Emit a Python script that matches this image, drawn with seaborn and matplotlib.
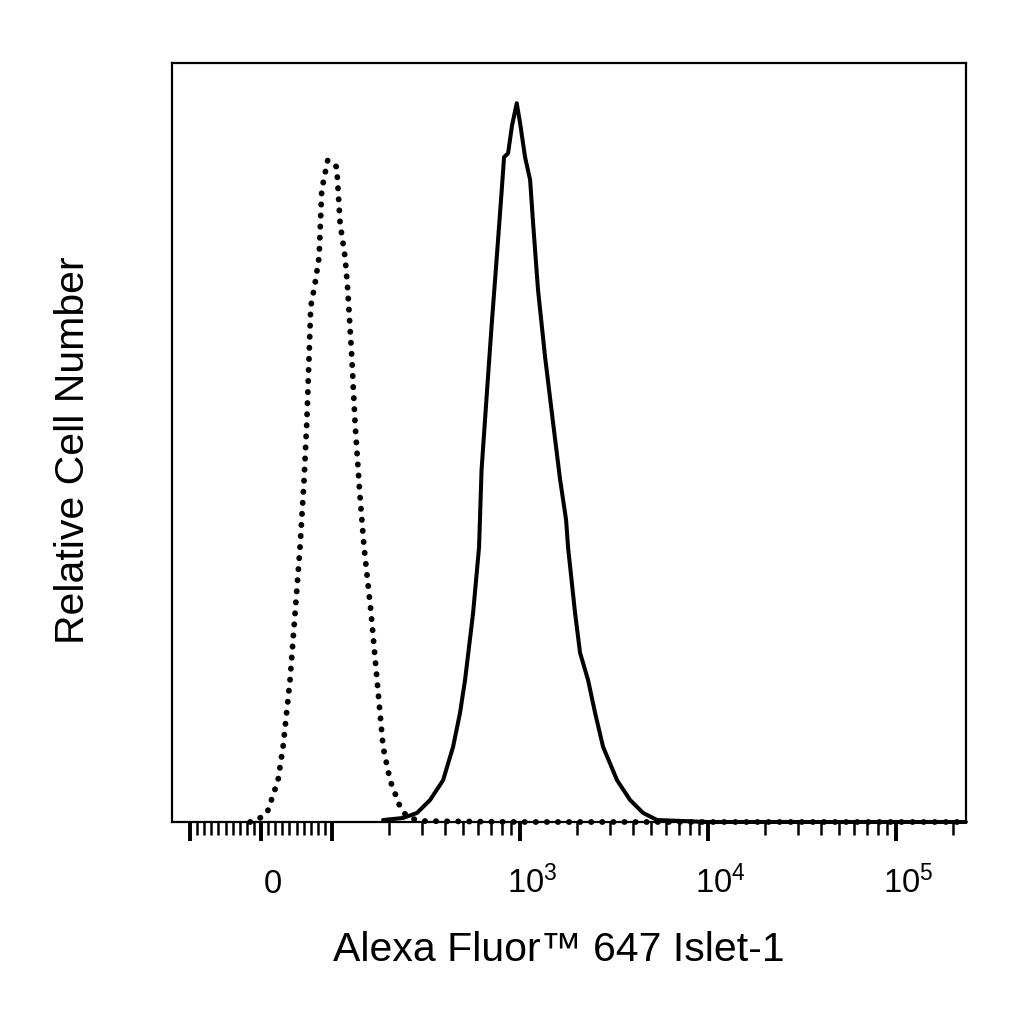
import numpy as np
import pandas as pd
import matplotlib
matplotlib.use("Agg")
import matplotlib.pyplot as plt
import matplotlib.ticker as mticker
import matplotlib.transforms as mtransforms
import seaborn as sns

# isotype control (dotted) - fluorescence vs relative count
control_x = [-15.5, -5.6, 8.5, 23.9, 31.0, 40.8, 47.9, 54.9, 60.6, 64.4, 67.6, 70.0,
             76.1, 81.7, 85.5, 93.9, 105.9, 110.3, 117.3, 121.2, 127.3, 132.5, 140.0,
             148.0, 161.3, 173.5, 186.8, 203.5, 230.0, 250.6, 293.8, 1000, 10000,
             100000, 235000]
control_y = [0, 0.26, 1.2, 5.5, 9.9, 18.7, 27.5, 36.2, 45.1, 52.6, 61.3, 67.9,
             71.0, 74.4, 83.3, 87.2, 86.3, 78.9, 74.4, 70.1, 61.3, 52.6, 43.7,
             36.2, 27.5, 18.7, 9.9, 5.5, 2.0, 0.66, 0.13, 0, 0, 0, 0]

# Islet-1 stained (solid)
islet_x = [186.8, 238.6, 283.3, 332.1, 389.4, 440.2, 479.5, 509.7, 562.3, 605.1,
           624.0, 667.6, 707.2, 751.7, 799.1, 822.0, 863.3, 906.7, 960.3, 1000,
           1063, 1131, 1173, 1246, 1358, 1498, 1633, 1757, 1800, 1962, 2085, 2300,
           2505, 2764, 3281, 3847, 4512, 5355, 10000, 100000, 235000]
islet_y = [0.26, 0.53, 1.2, 2.9, 5.5, 9.9, 14.4, 18.7, 27.5, 36.2,
           46.4, 56.9, 65.7, 74.4, 83.3, 87.6, 88.1, 91.8, 94.7, 92.1,
           87.6, 84.6, 78.9, 70.1, 61.3, 52.6, 45.1, 39.8, 36.2, 27.5, 22.3, 18.7,
           14.4, 9.9, 5.5, 2.9, 1.2, 0.26, 0, 0, 0]

major_ticks = [-100, 0, 100, 1000, 10000, 100000]
major_labels = ["", "0", "", "$10^3$", "$10^4$", "$10^5$"]

control = pd.DataFrame({"x": control_x, "y": control_y})
islet = pd.DataFrame({"x": islet_x, "y": islet_y})

sns.set_theme(style="white")
plt.rcParams["font.family"] = ["Liberation Sans", "DejaVu Sans"]
plt.rcParams["mathtext.default"] = "regular"
plt.rcParams["text.color"] = "black"
plt.rcParams["xtick.color"] = "black"
plt.rcParams["axes.labelcolor"] = "black"

fig = plt.figure(figsize=(10.24, 10.24), dpi=100)
ax = fig.add_axes([172 / 1024, 1 - 822 / 1024, 794 / 1024, 759 / 1024])

sns.lineplot(data=control, x="x", y="y", ax=ax, color="black", linewidth=4.2,
             linestyle=(0, (0.05, 1.85)), dash_capstyle="round", clip_on=False)
sns.lineplot(data=islet, x="x", y="y", ax=ax, color="black", linewidth=2.9,
             clip_on=False)

ax.set_xscale("symlog", linthresh=100, linscale=0.34)
ax.set_xlim(-124.7, 235500)
ax.set_ylim(0, 100)

minor = list(range(-90, 0, 10)) + list(range(10, 100, 10))
for dec in [100, 1000, 10000, 100000]:
    minor += [m * dec for m in range(2, 10)]
minor = [m for m in minor if m < 235500]
ax.xaxis.set_major_locator(mticker.FixedLocator(major_ticks))
ax.xaxis.set_major_formatter(mticker.FixedFormatter(major_labels))
ax.xaxis.set_minor_locator(mticker.FixedLocator(minor))
ax.set_yticks([])

ax.tick_params(axis="x", which="major", direction="out", length=14, width=2.8,
               color="black", labelsize=23.5, pad=37, bottom=True)
ax.tick_params(axis="x", which="minor", direction="out", length=9, width=1.8,
               color="black", bottom=True)

offset = mtransforms.ScaledTranslation(0.12, 0, fig.dpi_scale_trans)
for lab in ax.get_xticklabels():
    lab.set_transform(lab.get_transform() + offset)
    lab.set_verticalalignment("baseline")

for sp in ax.spines.values():
    sp.set_color("black")
    sp.set_linewidth(1.6)
    sp.set_visible(True)

ax.set_xlabel("Alexa Fluor™ 647 Islet-1", fontsize=29.5)
ax.set_ylabel("Relative Cell Number", fontsize=29.5)
ax.xaxis.set_label_coords(0.487, -0.144)
ax.yaxis.set_label_coords(-0.101, 0.49)

fig.savefig("out.png", dpi=100)
